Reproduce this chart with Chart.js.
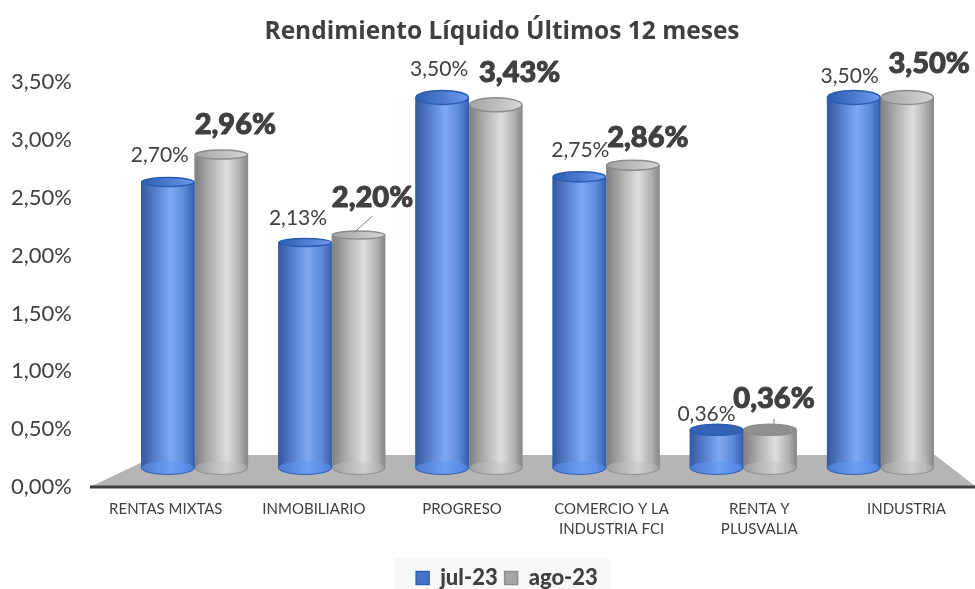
<!DOCTYPE html>
<html><head><meta charset="utf-8">
<style>html,body{margin:0;padding:0;background:#fff}canvas{display:block}</style>
<script src="https://cdn.jsdelivr.net/npm/chart.js@4"></script>
</head><body><canvas id="c" width="975" height="589"></canvas>
<script>
const categories = ["RENTAS MIXTAS","INMOBILIARIO","PROGRESO",["COMERCIO Y LA","INDUSTRIA FCI"],["RENTA Y","PLUSVALIA"],"INDUSTRIA"];
const seriesNames = ["jul-23","ago-23"];
const jul23 = [2.70,2.13,3.50,2.75,0.36,3.50];
const ago23 = [2.96,2.20,3.43,2.86,0.36,3.50];
const yTicks = [0,0.5,1,1.5,2,2.5,3,3.5];
const titleText = "Rendimiento Líquido Últimos 12 meses";

// layout-only adjustments
const labelShift = [-0.21,-0.13,-0.05,0.04,0.117,0.19];
const julLabelOffset = [[-8,-27],[-7,-24],[-3,-28],[1,-27],[-10,-16],[-4,-21]];
const agoLabelOffset = [[14,-30],[14,-37],[24,-32],[15,-28],[4,-31],[22,-34]];
const capRy = [4.5,4,7,5,5.5,7];
const baseRy = 6.5;
const fmt = v => v.toFixed(2).replace('.',',') + '%';
const GREY = '#404040';
const palette = [
  {solid:'#4472c4', stops:[[0,'#34589f'],[.3,'#5b83d0'],[.55,'#7ea8f2'],[.8,'#5f8bdc'],[1,'#3560ad']], cap:['#2c5cae','#6d9bee'], rim:'#2a5cb0', seen:'rgba(95,150,245,.55)', edge:'#2f5fb5'},
  {solid:'#a6a6a6', stops:[[0,'#7e7e7e'],[.3,'#b0b0b0'],[.6,'#dedede'],[.85,'#b0b0b0'],[1,'#858585']], cap:['#a2a2a2','#d8d8d8'], rim:'#8c8c8c', seen:'rgba(190,190,190,.45)', edge:'#8f8f8f'}
];
function barRange(chart, ds, i){
  const sx = chart.scales.x, c = sx.getPixelForValue(i), w = sx.width/categories.length*0.78/2;
  return ds===0 ? [c-w,c] : [c,c+w];
}
function gradFor(ctx,a,b,stops){
  const g = ctx.createLinearGradient(a,0,b,0);
  stops.forEach(s=>g.addColorStop(s[0],s[1]));
  return g;
}
function bodyFill(c){
  const chart = c.chart, ds = c.datasetIndex, p = palette[ds];
  if (c.type!=='data' || !chart.chartArea) return p.solid;
  const [a,b] = barRange(chart, ds, c.dataIndex);
  return gradFor(chart.ctx,a,b,p.stops);
}
const cylinders = {
  id:'cylinders',
  afterLayout(chart){
    chart.titleBlock.left += 55;
    chart.legend.left += 65;
    chart.legend.top += 10;
  },
  beforeDraw(chart){
    const {ctx} = chart;
    ctx.save();
    ctx.fillStyle='#f8f8f8';
    ctx.fillRect(395,558,215,31);
    ctx.restore();
  },
  beforeDatasetsDraw(chart){
    const {ctx} = chart, y = chart.scales.y.getPixelForValue(0);
    ctx.save();
    ctx.fillStyle='#b5b5b5';
    ctx.beginPath(); ctx.moveTo(92,y-1); ctx.lineTo(157,455); ctx.lineTo(935,455); ctx.lineTo(975,y-1); ctx.closePath(); ctx.fill();
    ctx.restore();
  },
  beforeDatasetDraw(chart,args){
    const {ctx} = chart, ds = args.index, p = palette[ds], vals = ds===0?jul23:ago23;
    ctx.save();
    vals.forEach((v,i)=>{
      const el = args.meta.data[i], [a,b] = barRange(chart,ds,i);
      ctx.fillStyle=gradFor(ctx,a,b,p.stops);
      ctx.beginPath(); ctx.ellipse((a+b)/2,el.base,(b-a)/2,baseRy,0,0,Math.PI*2); ctx.fill();
    });
    ctx.restore();
  },
  afterDatasetDraw(chart,args){
    const {ctx} = chart, ds = args.index, p = palette[ds], vals = ds===0?jul23:ago23;
    ctx.save();
    vals.forEach((v,i)=>{
      const el = args.meta.data[i], [a,b] = barRange(chart,ds,i), cx=(a+b)/2, rx=(b-a)/2;
      // see-through bottom of the cylinder
      ctx.fillStyle = p.seen;
      ctx.beginPath(); ctx.ellipse(cx,el.base,rx,baseRy,0,0,Math.PI*2); ctx.fill();
      // thin side edges
      ctx.strokeStyle = p.edge; ctx.lineWidth = 1;
      ctx.beginPath();
      ctx.moveTo(a+.5,el.y); ctx.lineTo(a+.5,el.base);
      ctx.moveTo(b-.5,el.y); ctx.lineTo(b-.5,el.base);
      ctx.ellipse(cx,el.base,rx-.5,baseRy,0,0,Math.PI);
      ctx.stroke();
      // top cap
      ctx.fillStyle = i===4 ? (ds===0?'#3462b4':'#8f8f8f') : gradFor(ctx,a,b,[[0,p.cap[0]],[1,p.cap[1]]]);
      ctx.strokeStyle = p.rim; ctx.lineWidth = 1.5;
      ctx.beginPath(); ctx.ellipse(cx,el.y,rx-.5,capRy[i],0,0,Math.PI*2); ctx.fill(); ctx.stroke();
    });
    ctx.restore();
  },
  afterDatasetsDraw(chart){
    const {ctx} = chart, y = chart.scales.y.getPixelForValue(0);
    ctx.save();
    ctx.strokeStyle='#3f3f3f'; ctx.lineWidth=3;
    ctx.beginPath(); ctx.moveTo(90,y); ctx.lineTo(975,y); ctx.stroke();
    // data labels
    ctx.textAlign='center'; ctx.textBaseline='middle'; ctx.fillStyle=GREY;
    ctx.font='21px Lato';
    chart.getDatasetMeta(0).data.forEach((el,i)=>{
      ctx.fillText(fmt(jul23[i]), el.x+julLabelOffset[i][0], el.y+julLabelOffset[i][1]);
    });
    ctx.font='900 29px Lato';
    ctx.strokeStyle=GREY; ctx.lineWidth=1; ctx.lineJoin='round';
    chart.getDatasetMeta(1).data.forEach((el,i)=>{
      const tx=el.x+agoLabelOffset[i][0], ty=el.y+agoLabelOffset[i][1];
      ctx.strokeText(fmt(ago23[i]),tx,ty);
      ctx.fillText(fmt(ago23[i]),tx,ty);
    });
    // leader lines
    ctx.strokeStyle='#7f7f7f'; ctx.lineWidth=1;
    const m = chart.getDatasetMeta(1).data;
    ctx.beginPath();
    ctx.moveTo(m[1].x-5,m[1].y-2); ctx.lineTo(m[1].x+14,m[1].y-19);
    ctx.moveTo(m[4].x+4,m[4].y-3); ctx.lineTo(m[4].x+4,m[4].y-11);
    ctx.stroke();
    ctx.restore();
  }
};
new Chart(document.getElementById('c'),{
  type:'bar',
  plugins:[cylinders],
  data:{labels:categories,datasets:[
    {label:seriesNames[0],data:jul23,backgroundColor:bodyFill,xAxisID:'x',yAxisID:'yb',barPercentage:1,categoryPercentage:0.78},
    {label:seriesNames[1],data:ago23,backgroundColor:bodyFill,xAxisID:'x',yAxisID:'yb',barPercentage:1,categoryPercentage:0.78}
  ]},
  options:{
    responsive:false,animation:false,
    layout:{padding:{top:17,right:26,left:0,bottom:0}},
    plugins:{
      tooltip:{enabled:false},
      title:{display:true,text:titleText,color:GREY,font:{family:'"Open Sans"',size:24.5,weight:'bold'},padding:{top:0,bottom:36}},
      legend:{position:'bottom',labels:{color:GREY,font:{family:'Lato',size:22,weight:'900'},boxWidth:13,boxHeight:13,padding:7,
        generateLabels:chart=>seriesNames.map((n,i)=>({text:n,fillStyle:palette[i].solid,strokeStyle:palette[i].edge,lineWidth:1.5,datasetIndex:i,fontColor:GREY}))}}
    },
    scales:{
      x:{type:'category',display:false,grid:{display:false}},
      xl:{type:'linear',axis:'x',position:'bottom',offset:false,min:-0.5,max:5.5,grid:{display:false},border:{display:false},
        afterBuildTicks:a=>{a.ticks=categories.map((c,i)=>({value:i+labelShift[i]}));},
        afterFit:s=>{s.height=63;},
        ticks:{autoSkip:false,maxRotation:0,minRotation:0,padding:4,color:GREY,font:{family:'Lato',size:15,lineHeight:1.33},
          callback:(v,i)=>categories[i]}},
      y:{type:'linear',position:'left',min:0,max:3.5,grid:{display:false},border:{display:false},
        afterFit:s=>{s.width=126;},
        afterBuildTicks:a=>{a.ticks=yTicks.map(v=>({value:v}));},
        ticks:{padding:46,color:GREY,font:{family:'Lato',size:22},callback:v=>fmt(v)}},
      yb:{type:'linear',position:'right',display:false,min:-0.18,max:3.642,grid:{display:false}}
    }
  }
});
</script></body></html>
